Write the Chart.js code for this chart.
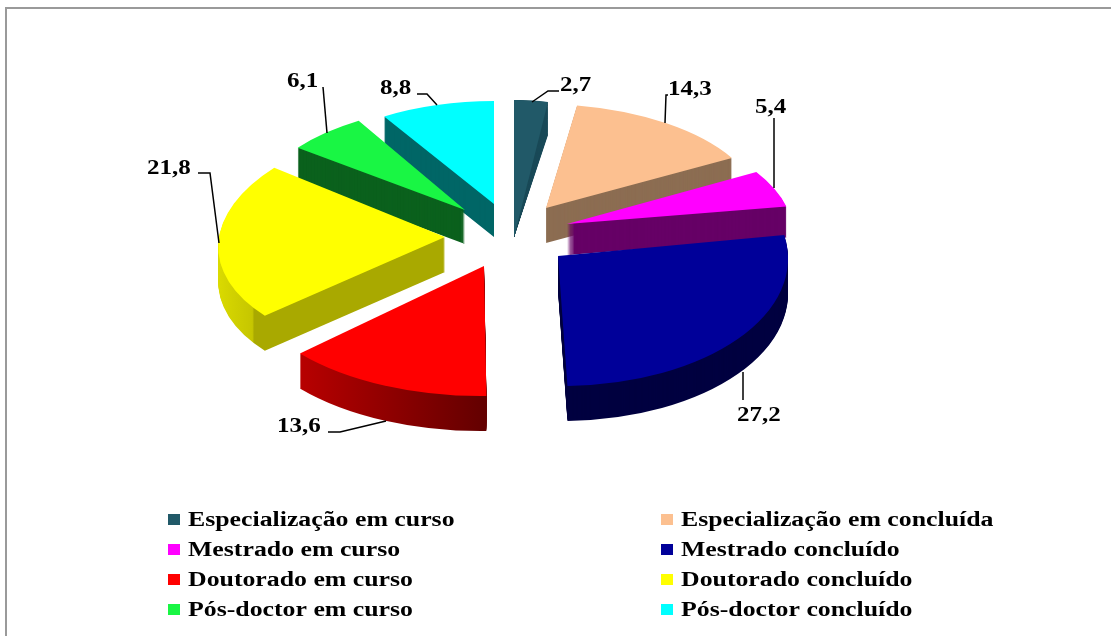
<!DOCTYPE html>
<html>
<head>
<meta charset="utf-8">
<script src="https://cdn.jsdelivr.net/npm/chart.js@4"></script>
<style>
  html, body { margin: 0; padding: 0; background: #fff; overflow: hidden; }
  #frame { position: absolute; left: 5px; top: 7px; right: 0; bottom: 0; border-left: 2px solid #9a9a9a; border-top: 2px solid #9a9a9a; }
  #chart { position: absolute; left: 0; top: 0; }
</style>
</head>
<body>
<div id="frame"></div>
<canvas id="chart" width="1111" height="636"></canvas>
<script>
const categories = [
  'Especialização em curso', 'Especialização em concluída',
  'Mestrado em curso', 'Mestrado concluído',
  'Doutorado em curso', 'Doutorado concluído',
  'Pós-doctor em curso', 'Pós-doctor concluído'
];
const values = [2.7, 14.3, 5.4, 27.2, 13.6, 21.8, 6.1, 8.8];
const topColors = ['#215968', '#fcc090', '#ff00ff', '#000099', '#ff0000', '#ffff00', '#19f644', '#00ffff'];
const sideColors = ['#1a4a58', '#8c6d52', '#660066', '#000040', '#8a0000', '#a9a900', '#0b611d', '#006666'];

// look of the 3D pie: how far each slice is pulled out, squashed, skewed and how thick
const BASE_RADIUS = 200;
const shiftX = [9, 41, 62, 53, -21, -60, -40, -11];
const shiftY = [5, -24, -8, 24, 34, 5, -22, -28];
const radiusX = [201, 215, 225, 230, 246, 226, 212, 209];
const radiusY = [137, 104, 108, 130, 130, 117, 105, 103];
const skewX = [0, 0.027, 0.083, 0.022, -0.015, -0.096, -0.03, 0];
const depth = [0, 35, 31, 35, 35, 35, 34, 33];
const drawOrder = [0, 7, 6, 5, 1, 2, 3, 4];

// where the value labels and their leader lines go
const labelBox = [[560, 91], [668, 95], [755, 113], [287, 87], [147, 174], [277, 432], [737, 421], [380, 94]];
const labelValue = [2.7, 14.3, 5.4, 6.1, 21.8, 13.6, 27.2, 8.8];
const leaders = [
  [[532, 102], [548, 91], [559, 91]],
  [[665, 123], [666, 95], [668, 95]],
  [[774, 118], [774, 188]],
  [[323, 87], [327, 133]],
  [[198, 173], [210, 173], [219, 243]],
  [[328, 432], [340, 432], [386, 421]],
  [[743, 372], [743, 400]],
  [[417, 94], [427, 94], [437, 105]]
];
const legendColX = [168, 661];
const legendRowY = [520, 550, 580, 610];

function stretchedText(ctx, text, x, y, stretch) {
  ctx.save();
  ctx.translate(x, y);
  ctx.scale(stretch, 1);
  ctx.fillText(text, 0, 0);
  ctx.restore();
}

const pie3d = {
  id: 'pie3d',
  beforeDatasetsDraw(chart) {
    const ctx = chart.ctx;
    const arcs = chart.getDatasetMeta(0).data;
    drawOrder.forEach(i => {
      const arc = arcs[i];
      const tipX = arc.x + shiftX[i];
      const tipY = arc.y + shiftY[i];
      const sx = radiusX[i] / BASE_RADIUS;
      const sy = radiusY[i] / BASE_RADIUS;
      const place = () => {
        ctx.translate(tipX, tipY);
        ctx.transform(sx, 0, skewX[i], sy, 0, 0);
        ctx.translate(-arc.x, -arc.y);
      };

      // side colour, the red and yellow walls are shaded (x along the wall, in slice units)
      const localX = x => (x - tipX) / sx + arc.x;
      let side = sideColors[i];
      if (i === 4) {
        side = ctx.createLinearGradient(localX(301), 0, localX(486), 0);
        side.addColorStop(0, '#b80000');
        side.addColorStop(1, '#640000');
      } else if (i === 5) {
        side = ctx.createLinearGradient(localX(218), 0, localX(270), 0);
        side.addColorStop(0, '#dcdc00');
        side.addColorStop(0.88, '#c6c600');
        side.addColorStop(0.92, '#a9a900');
        side.addColorStop(1, '#a9a900');
      }
      const wall = Object.create(arc);
      wall.options = Object.assign({}, arc.options, { backgroundColor: side });

      if (i === 0) {
        // the small slice only shows a wedge that closes at its tip
        for (let s = 0.97; s > 0; s -= 0.03) {
          ctx.save();
          ctx.transform(1, s, 0, 1, 0, -s * tipX);
          place();
          wall.draw(ctx);
          ctx.restore();
        }
      }
      for (let d = depth[i]; d >= 1; d--) {
        ctx.save();
        ctx.translate(0, d);
        place();
        wall.draw(ctx);
        ctx.restore();
      }
      ctx.save();
      place();
      arc.draw(ctx);
      ctx.restore();
    });
    return false;
  },
  afterDraw(chart) {
    const ctx = chart.ctx;
    ctx.save();
    ctx.strokeStyle = '#000';
    ctx.lineWidth = 1.5;
    leaders.forEach(pts => {
      ctx.beginPath();
      pts.forEach((p, k) => k ? ctx.lineTo(p[0], p[1]) : ctx.moveTo(p[0], p[1]));
      ctx.stroke();
    });
    ctx.fillStyle = '#000';
    ctx.textBaseline = 'alphabetic';
    ctx.textAlign = 'left';
    ctx.font = 'bold 20px "Liberation Serif"';
    labelBox.forEach((p, i) => {
      stretchedText(ctx, labelValue[i].toFixed(1).replace('.', ','), p[0], p[1], 1.25);
    });
    // legend, two columns
    ctx.textBaseline = 'middle';
    categories.forEach((name, i) => {
      const x = legendColX[i % 2];
      const y = legendRowY[Math.floor(i / 2)];
      ctx.fillStyle = topColors[i];
      ctx.fillRect(x, y - 6, 12, 11);
      ctx.fillStyle = '#000';
      stretchedText(ctx, name, x + 20, y + 1, 1.29);
    });
    ctx.restore();
  }
};

new Chart(document.getElementById('chart'), {
  type: 'pie',
  data: {
    labels: categories,
    datasets: [{ data: values, backgroundColor: topColors, borderWidth: 0 }]
  },
  options: {
    responsive: false,
    animation: false,
    radius: BASE_RADIUS,
    layout: { padding: { right: 101, bottom: 172 } },
    plugins: { legend: { display: false }, tooltip: { enabled: false } }
  },
  plugins: [pie3d]
});
</script>
</body>
</html>
